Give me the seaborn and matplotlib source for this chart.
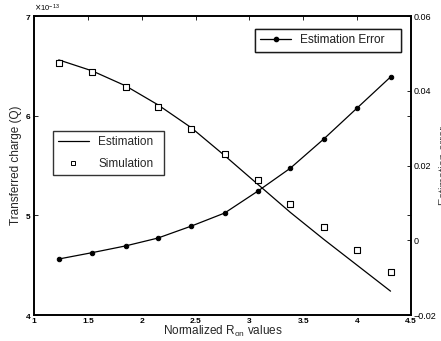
import matplotlib
matplotlib.use("Agg")
import matplotlib.pyplot as plt
import seaborn as sns
import pandas as pd
from matplotlib.ticker import ScalarFormatter, MultipleLocator, FuncFormatter
from matplotlib.lines import Line2D

sns.set_theme(style="white")
plt.rcParams['font.family'] = ['Liberation Sans', 'DejaVu Sans']
plt.rcParams['axes.unicode_minus'] = True

r_on = [1.23, 1.54, 1.85, 2.15, 2.46, 2.77, 3.08, 3.38, 3.69, 4.00, 4.31]
estimation = [6.56e-13, 6.45e-13, 6.30e-13, 6.11e-13, 5.88e-13, 5.60e-13,
              5.31e-13, 5.03e-13, 4.76e-13, 4.50e-13, 4.24e-13]
simulation = [6.53e-13, 6.44e-13, 6.29e-13, 6.09e-13, 5.87e-13, 5.62e-13,
              5.36e-13, 5.11e-13, 4.88e-13, 4.65e-13, 4.43e-13]
est_error = [-0.0050, -0.0033, -0.0015, 0.0006, 0.0038, 0.0073,
             0.0132, 0.0193, 0.0271, 0.0354, 0.0437]
x_ticks = [1, 1.5, 2, 2.5, 3, 3.5, 4, 4.5]
x_tick_labels = ["1", "1.5", "2", "2.5", "3", "3.5", "4", "4.5"]

df = pd.DataFrame({"r": r_on, "est": estimation, "sim": simulation, "err": est_error})

fig = plt.figure(figsize=(4.41, 3.41), dpi=100)
ax = fig.add_axes([0.077, 0.076, 0.855, 0.877])
ax2 = ax.twinx()

sns.lineplot(data=df, x="r", y="est", ax=ax, color="black", linewidth=0.9, legend=False)
sns.scatterplot(data=df, x="r", y="sim", ax=ax, marker="s", s=16, facecolor="white",
                edgecolor="black", linewidth=0.8, legend=False, zorder=3)
sns.lineplot(data=df, x="r", y="err", ax=ax2, color="black", linewidth=0.9,
             marker="o", markersize=3.2, markeredgecolor="black", legend=False)

ax.set_xlim(1, 4.5)
ax.set_ylim(4e-13, 7e-13)
ax2.set_ylim(-0.02, 0.06)
ax.yaxis.set_major_locator(MultipleLocator(1e-13))
ax2.yaxis.set_major_locator(MultipleLocator(0.02))
ax2.yaxis.set_major_formatter(FuncFormatter(
    lambda v, p: "0" if abs(v) < 1e-9 else ("\u2212%g" % abs(v) if v < 0 else "%g" % v)))

fmt = ScalarFormatter(useMathText=True)
fmt.set_powerlimits((0, 0))
ax.yaxis.set_major_formatter(fmt)
ax.yaxis.get_offset_text().set_fontsize(5.5)

ax.set_xticks(x_ticks)
ax.set_xticklabels(x_tick_labels)

ax.tick_params(axis="both", direction="in", length=3, width=0.6, labelsize=6,
               top=True, right=True, pad=2, colors="black")
ax2.tick_params(axis="y", direction="in", length=3, width=0.6, labelsize=6.5, pad=2,
                colors="black")
for lab in ax.get_xticklabels() + ax.get_yticklabels():
    lab.set_fontweight("bold")
for a in (ax, ax2):
    for s in a.spines.values():
        s.set_color("black")
        s.set_linewidth(1.2)

ax.set_xlabel("Normalized R$_{\\mathregular{on}}$ values", fontsize=8.5, labelpad=-1)
ax.set_ylabel("Transferred charge (Q)", fontsize=8.5, labelpad=2)
ax2.set_ylabel("Estimation error", fontsize=8, color="#444444")
ax2.yaxis.set_label_coords(1.075, 0.5)

h1 = [Line2D([], [], color="black", marker="o", markersize=3, linewidth=0.9)]
leg1 = ax.legend(h1, ["Estimation Error"], loc="upper left",
                 bbox_to_anchor=(0.586, 0.956, 0.387, 0.0), mode="expand",
                 fontsize=8.5, frameon=True, fancybox=False, edgecolor="black",
                 borderpad=0.45, handlelength=2.6, borderaxespad=0)
leg1.get_frame().set_linewidth(1.0)
ax.add_artist(leg1)
h2 = [Line2D([], [], color="black", linewidth=0.9),
      Line2D([], [], color="black", marker="s", markersize=3.5, markerfacecolor="white",
             linestyle="none", markeredgewidth=0.7)]
leg2 = ax2.legend(h2, ["Estimation", "Simulation"], loc="upper left",
                  bbox_to_anchor=(0.05, 0.615, 0.294, 0.0), mode="expand",
                  fontsize=8.5, frameon=True, fancybox=False,
                  edgecolor="black", borderpad=0.45, handlelength=2.6, borderaxespad=0,
                  labelspacing=0.8)
leg2.get_frame().set_linewidth(1.0)

ax.set_facecolor("white")
fig.savefig("out.png", dpi=100, facecolor="white")
